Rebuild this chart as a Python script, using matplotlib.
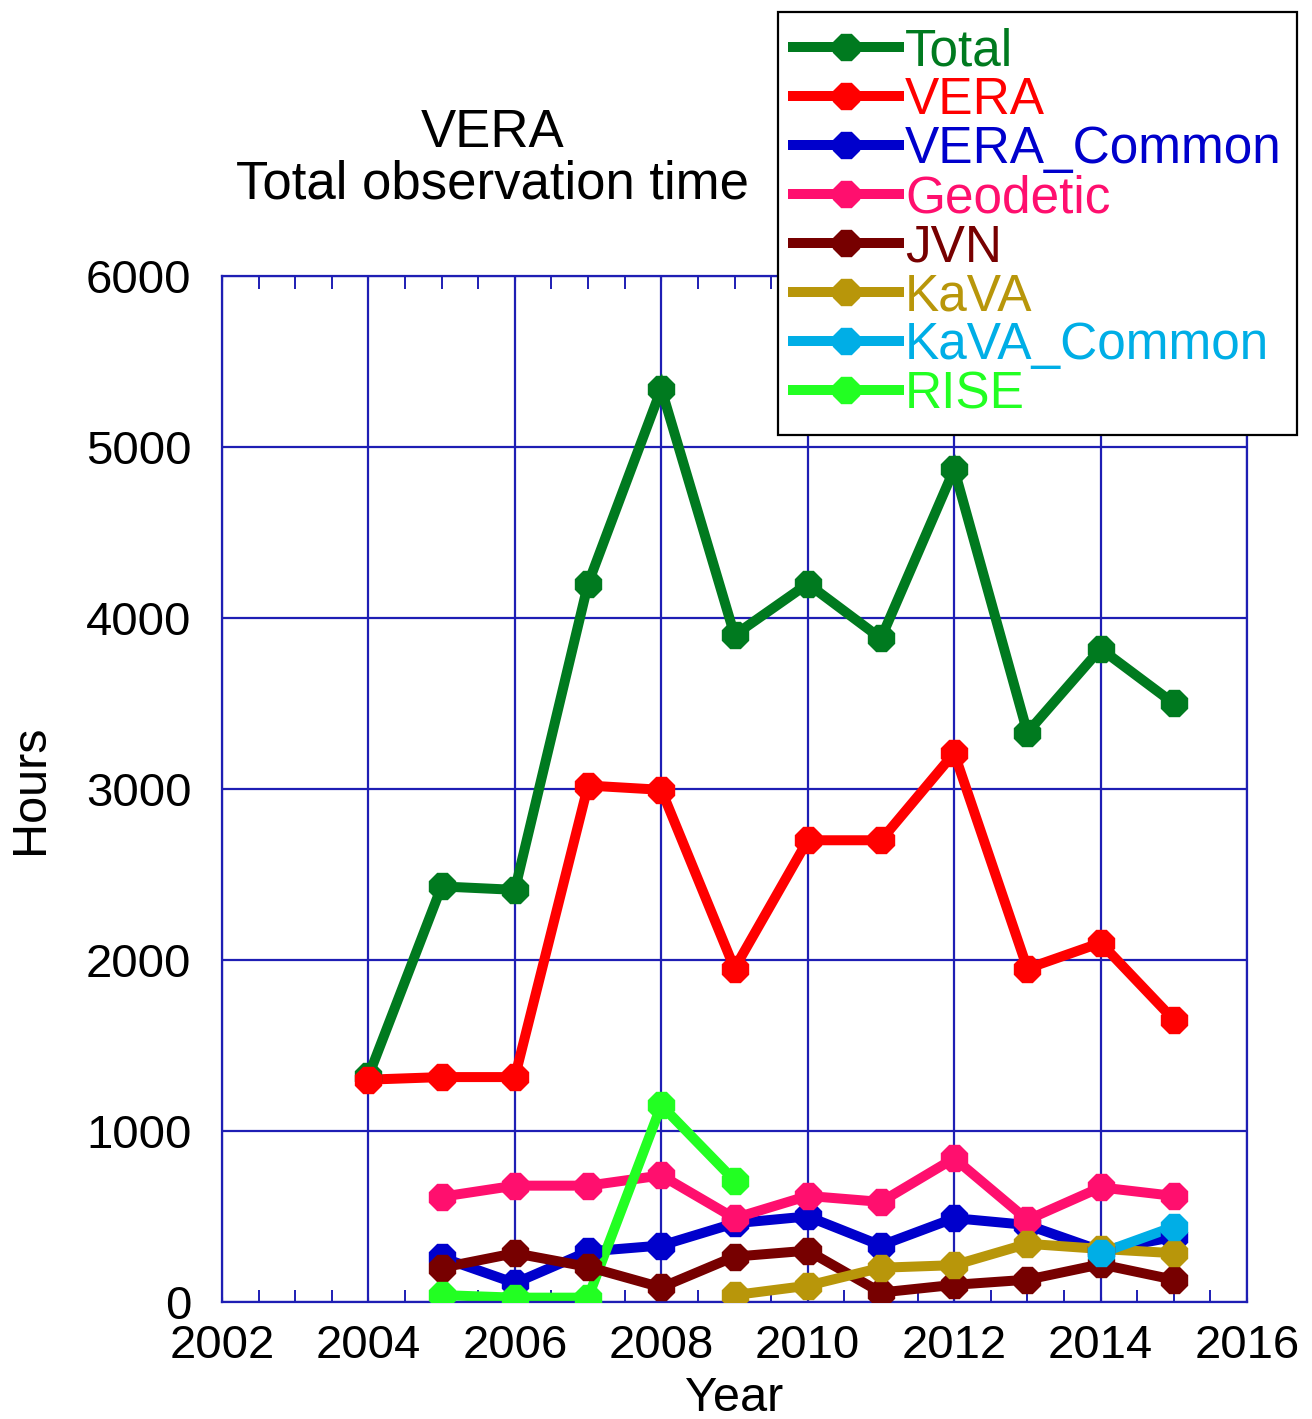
import matplotlib
matplotlib.use("Agg")
import matplotlib.pyplot as plt
from matplotlib.ticker import MultipleLocator

plt.rcParams['font.family'] = ['Liberation Sans', 'DejaVu Sans']

# data (hours per year)
years_main = [2004, 2005, 2006, 2007, 2008, 2009, 2010, 2011, 2012, 2013, 2014, 2015]
total = [1320, 2430, 2410, 4200, 5340, 3900, 4200, 3880, 4870, 3330, 3820, 3500]
vera = [1300, 1315, 1315, 3020, 2995, 1950, 2700, 2700, 3210, 1950, 2100, 1650]

years_sub = [2005, 2006, 2007, 2008, 2009, 2010, 2011, 2012, 2013, 2014, 2015]
vera_common = [260, 110, 295, 330, 460, 500, 330, 490, 450, 300, 380]
geodetic = [615, 680, 680, 740, 490, 620, 585, 840, 480, 670, 620]
jvn = [200, 285, 205, 85, 265, 300, 55, 100, 130, 220, 130]

years_kava = [2009, 2010, 2011, 2012, 2013, 2014, 2015]
kava = [40, 95, 200, 215, 340, 310, 285]

years_kava_common = [2014, 2015]
kava_common = [285, 440]

years_rise = [2005, 2006, 2007, 2008, 2009]
rise = [40, 25, 25, 1150, 710]

series = [
    ("Total", years_main, total, "#007a1f"),
    ("VERA", years_main, vera, "#ff0000"),
    ("VERA_Common", years_sub, vera_common, "#0000cc"),
    ("Geodetic", years_sub, geodetic, "#ff0f6e"),
    ("JVN", years_sub, jvn, "#770000"),
    ("KaVA", years_kava, kava, "#b8960a"),
    ("KaVA_Common", years_kava_common, kava_common, "#00aee6"),
    ("RISE", years_rise, rise, "#22ff22"),
]
# line drawing order (RISE line sits above Geodetic, markers above all lines)
line_order = {"Total": 2.0, "VERA": 2.1, "VERA_Common": 2.2, "Geodetic": 2.3,
              "RISE": 2.35, "JVN": 2.4, "KaVA": 2.5, "KaVA_Common": 2.6}

axcol = "#1e1eb4"

fig = plt.figure(figsize=(13.12, 14.19), dpi=100)
ax = fig.add_axes([0.1692, 0.0825, 0.7813, 0.723])

handles = []
for i, (name, xs, ys, col) in enumerate(series):
    ax.plot(xs, ys, color=col, lw=7.2, solid_joinstyle='miter',
            zorder=line_order[name])
    ax.plot(xs, ys, ls='none', marker='8', ms=20, color=col, zorder=3 + i * 0.1)
    h, = ax.plot([], [], color=col, lw=7.2, marker='8', ms=20, label=name)
    handles.append(h)

ax.set_xlim(2002, 2016)
ax.set_ylim(0, 6000)
ax.xaxis.set_major_locator(MultipleLocator(2))
ax.xaxis.set_minor_locator(MultipleLocator(0.5))
ax.yaxis.set_major_locator(MultipleLocator(1000))
ax.grid(True, which='major', color=axcol, lw=1.6)
ax.set_axisbelow(True)
for s in ax.spines.values():
    s.set_color(axcol)
    s.set_linewidth(1.6)
ax.tick_params(axis='both', which='both', direction='in', colors=axcol,
               labelcolor='black', labelsize=34)
ax.tick_params(axis='x', which='both', top=True, pad=16)
ax.tick_params(axis='x', which='minor', length=9, width=1.4)
ax.tick_params(axis='y', which='major', length=0, pad=22)

ax.set_xlabel("Year", fontsize=35, labelpad=6)
ax.set_ylabel("Hours", fontsize=35, labelpad=24)

fig.text(493 / 1312, 1 - 159 / 1419, "VERA\nTotal observation time",
         ha='center', va='center', fontsize=38, linespacing=1.05)

leg = ax.legend(handles=handles, loc='upper left',
                bbox_to_anchor=(778 / 1312, 1 - 12 / 1419),
                bbox_transform=fig.transFigure, fontsize=37,
                frameon=True, fancybox=False, edgecolor='black',
                framealpha=1, handlelength=2.05, handletextpad=0.12,
                labelspacing=0.0, borderpad=0.3, borderaxespad=0)
leg.get_frame().set_linewidth(1.6)
leg.set_zorder(10)
for txt, (_, _, _, col) in zip(leg.get_texts(), series):
    txt.set_color(col)

fig.savefig("out.png", dpi=100)
